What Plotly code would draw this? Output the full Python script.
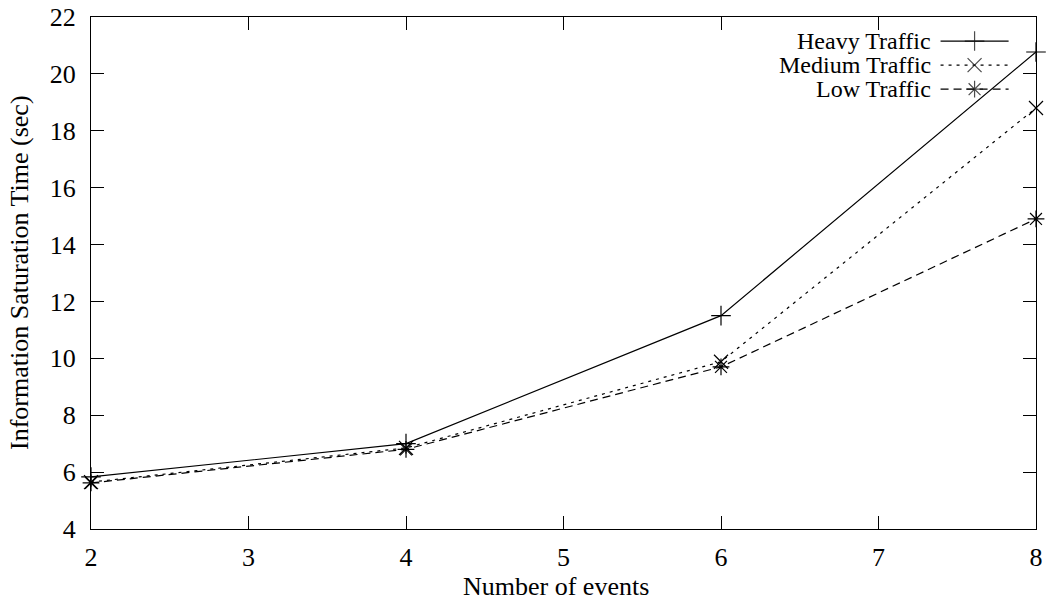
import plotly.graph_objects as go

events = [2, 4, 6, 8]
heavy = [5.83, 7.0, 11.5, 20.77]
medium = [5.65, 6.85, 9.88, 18.8]
low = [5.62, 6.8, 9.7, 14.9]
series_names = ["Heavy Traffic", "Medium Traffic", "Low Traffic"]
x_ticks = [2, 3, 4, 5, 6, 7, 8]
y_ticks = [4, 6, 8, 10, 12, 14, 16, 18, 20, 22]

FONT = "Liberation Serif"
FS = 26
KEY_FS = 24
styles = [
    dict(dash="solid", symbol="cross-thin-open"),
    dict(dash="3px,5px", symbol="x-thin-open"),
    dict(dash="8px,5px", symbol="asterisk-open"),
]

fig = go.Figure()
for name, ys, st in zip(series_names, [heavy, medium, low], styles):
    fig.add_trace(go.Scatter(
        x=events, y=ys, name=name, mode="lines+markers",
        line=dict(color="black", width=1.2, dash=st["dash"]),
        marker=dict(symbol=st["symbol"], size=14, color="black",
                    line=dict(color="black", width=1.2)),
        cliponaxis=False, showlegend=False,
    ))

# gnuplot-style key: text right-aligned, sample on the right
key_y = [0.953, 0.906, 0.859]
for name, st, ky in zip(series_names, styles, key_y):
    fig.add_trace(go.Scatter(
        x=[0.899, 0.935, 0.971], y=[ky, ky, ky], xaxis="x2", yaxis="y2",
        mode="lines+markers", showlegend=False, hoverinfo="skip",
        line=dict(color="black", width=1.2, dash=st["dash"]),
        marker=dict(symbol=st["symbol"], size=[0, 14, 0], color="black",
                    line=dict(color="black", width=1.2)),
        cliponaxis=False,
    ))
    fig.add_annotation(x=0.891, y=ky, xref="paper", yref="paper",
                       text=name, showarrow=False, xanchor="right",
                       yanchor="middle",
                       font=dict(family=FONT, size=KEY_FS, color="black"))

# axis titles
fig.add_annotation(x=0.5, y=0, xref="paper", yref="paper", text="Number of events",
                   showarrow=False, xanchor="center", yanchor="middle",
                   xshift=-8, yshift=-57, font=dict(family=FONT, size=FS, color="black"))
fig.add_annotation(x=0, y=0.5, xref="paper", yref="paper",
                   text="Information Saturation Time (sec)", textangle=-90,
                   showarrow=False, xanchor="center", yanchor="middle",
                   xshift=-72, font=dict(family=FONT, size=FS, color="black"))

axis_common = dict(
    showgrid=False, zeroline=False, showline=True, linecolor="black",
    linewidth=1.2, mirror="allticks", ticks="inside", ticklen=13,
    tickwidth=1.2, tickcolor="black", automargin=False,
    tickfont=dict(family=FONT, size=FS, color="black"),
)

fig.update_layout(
    width=1047, height=603,
    margin=dict(l=91, r=11, t=17, b=74),
    paper_bgcolor="white", plot_bgcolor="white",
    xaxis=dict(range=[2, 8], tickvals=x_ticks, ticklabelstandoff=5, **axis_common),
    yaxis=dict(range=[4, 22], tickvals=y_ticks, ticklabelstandoff=9, **axis_common),
    xaxis2=dict(range=[0, 1], overlaying="x", visible=False),
    yaxis2=dict(range=[0, 1], overlaying="y", visible=False),
)

fig.write_html("out.html", config={"displayModeBar": False},
               post_script="document.body.style.margin='0';")
